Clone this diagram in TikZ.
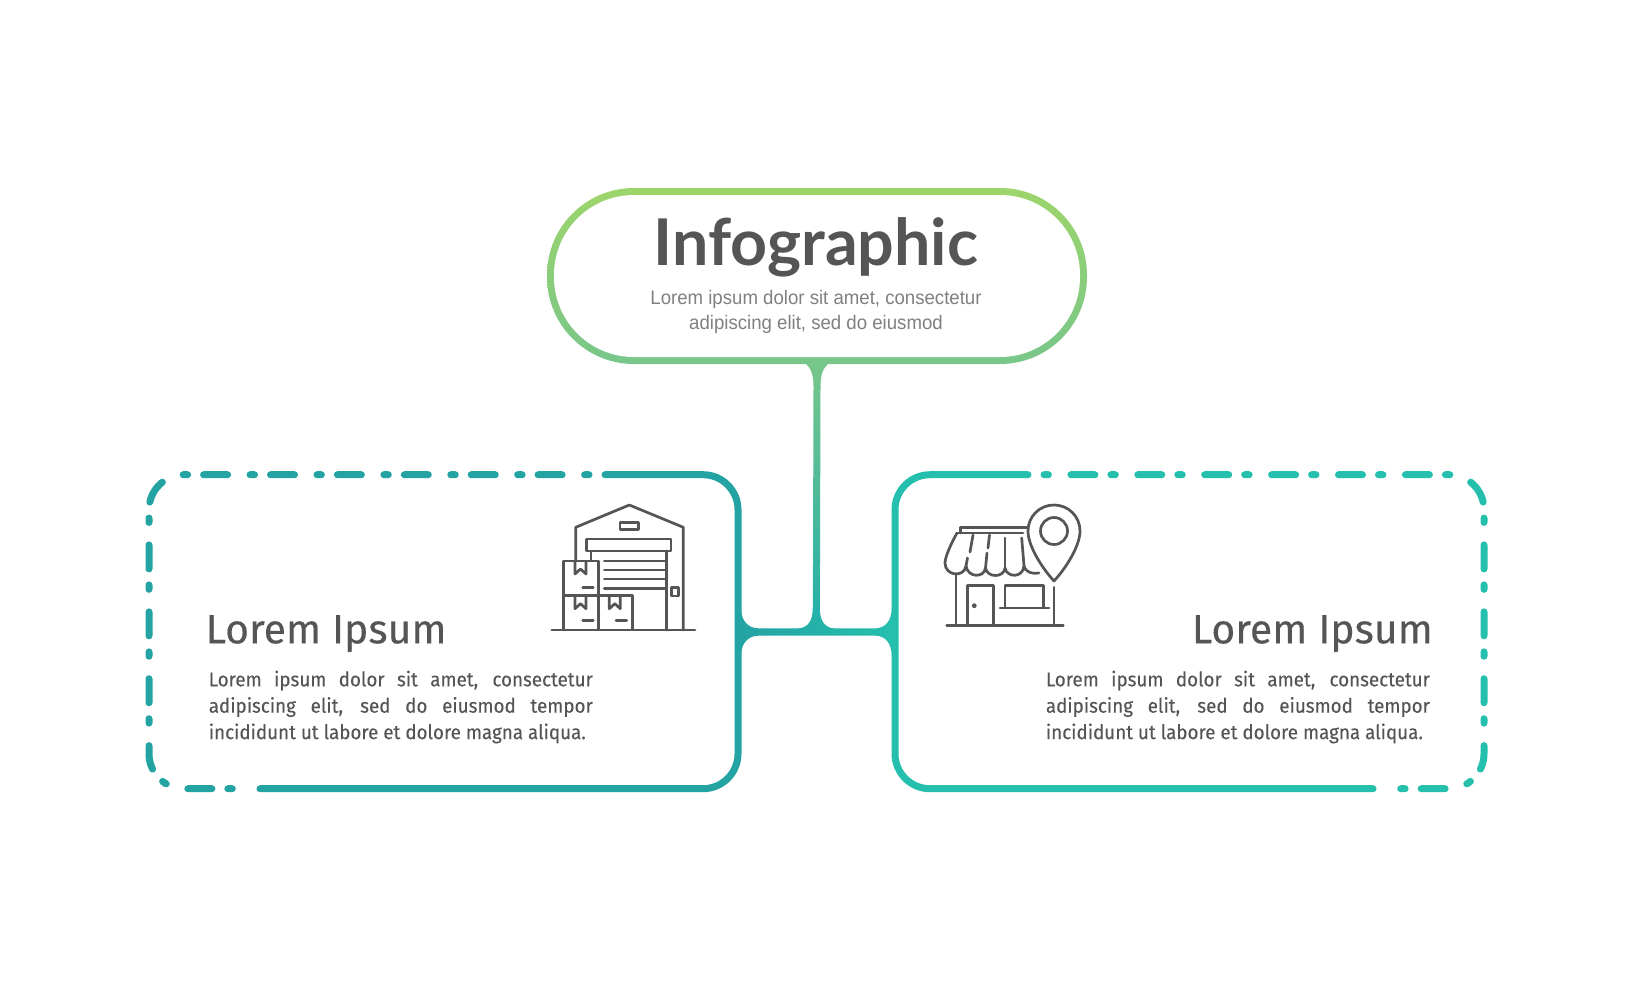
\documentclass[tikz,border=0pt]{standalone}
\usepackage{fontspec}
\usetikzlibrary{calc}
\newfontfamily\titlefont{Lato}
\newfontfamily\subfont[FakeStretch=0.95]{Liberation Sans}
\newfontfamily\headfont[FakeStretch=1.0,FakeBold=0.25]{Fira Sans}
\newfontfamily\bodyfont[FakeStretch=0.94,FakeBold=0.15]{Fira Sans}
\definecolor{inktext}{HTML}{555555}
\definecolor{subtext}{HTML}{808080}
\definecolor{pilltop}{HTML}{9DD56B}
\definecolor{pillbot}{HTML}{78C68A}
\definecolor{stemmid}{HTML}{4DB5A4}
\definecolor{stembot}{HTML}{22AEAA}
\definecolor{leftteal}{HTML}{24A3A3}
\definecolor{rightteal}{HTML}{25BFAE}
\definecolor{iconline}{HTML}{555555}
\newcommand{\bodytext}{\tolerance=9999 \hbadness=10000 Lorem ipsum dolor sit amet, consectetur\linebreak[4] adipiscing elit, sed do eiusmod tempor\linebreak[4] incididunt ut labore et dolore magna aliqua.}
\tikzset{
  pillouter/.style={minimum width=540pt,minimum height=176pt,rounded corners=87pt,top color=pilltop,bottom color=pillbot,inner sep=0pt,outer sep=0pt},
  pillinner/.style={minimum width=526pt,minimum height=162pt,rounded corners=80pt,fill=white,inner sep=0pt},
  stemshade/.style={top color=pillbot,middle color=stemmid,bottom color=stembot},
  hubshade/.style={left color=leftteal,right color=rightteal},
  boxspace/.style={minimum width=589pt,minimum height=314pt,inner sep=0pt,outer sep=0pt},
  edgeline/.style={line width=7pt,line cap=round,rounded corners=35pt},
  gapline/.style={edgeline,dash pattern=on 4.4pt off 22.5pt on 24pt off 16pt,dash phase=50.9pt},
  titletext/.style={font=\titlefont\bfseries\fontsize{64.5}{70}\selectfont,text=inktext,anchor=base,inner sep=0pt},
  subtitle/.style={font=\subfont\fontsize{19.6}{24.3}\selectfont,text=subtext,align=center,inner sep=0pt},
  headtext/.style={font=\headfont\fontsize{41}{45}\selectfont,text=inktext,anchor=base,inner sep=0pt},
  bodybox/.style={font=\bodyfont\fontsize{20}{26.4}\selectfont,text=inktext,text width=384pt,align=justify,anchor=north west,inner sep=0pt},
  icon/.style={draw=iconline,line width=2.7pt,line cap=round,line join=round},
}
\begin{document}
\begin{tikzpicture}[x=1pt,y=-1pt]
  \useasboundingbox[fill=white] (0,0) rectangle (1633,980);
  % top pill
  \node[pillouter] (head) at (817,276) {};
  \node[pillinner] (headin) at (head.center) {};
  \node[titletext] (title) at (816,265) {Infographic};
  \node[subtitle] (sub) at (816,312) {Lorem ipsum dolor sit amet, consectetur\\adipiscing elit, sed do eiusmod};
  % boxes
  \node[boxspace] (leftbox) at (443.5,631.7) {};
  \node[boxspace] (rightbox) at (1189.5,631.7) {};
  \coordinate (hub) at (816.3,632);
  \draw[edgeline,leftteal] (605,474.7) -- (leftbox.north east) -- (leftbox.south east) -- (260,788.7);
  \draw[gapline,leftteal] (605,474.7) -- (leftbox.north west) -- (leftbox.south west) -- (245,788.7);
  \draw[edgeline,rightteal] (1028,474.7) -- (rightbox.north west) -- (rightbox.south west) -- (1373,788.7);
  \draw[gapline,rightteal] (1028,474.7) -- (rightbox.north east) -- (rightbox.south east) -- (1388,788.7);
  % stem and hub
  \shade[stemshade] ($(head.south)+(-24,-4)$) .. controls ($(head.south)+(-9,-4)$) and ($(head.south)+(-3.5,6)$) .. ($(head.south)+(-3.5,22)$)
    -- ($(hub)+(-3.5,0)$) -- ($(hub)+(3.5,0)$) -- ($(head.south)+(3.5,22)$)
    .. controls ($(head.south)+(3.5,6)$) and ($(head.south)+(9,-4)$) .. ($(head.south)+(24,-4)$) -- cycle;
  \begin{scope}[shift={(hub)}]
    \shade[hubshade] (-75.3,-24) .. controls (-75.3,-12) and (-69,-3.6) .. (-57,-3.6) -- (-19,-3.6)
      .. controls (-8,-3.6) and (-3.5,-12) .. (-3.5,-24) -- (3.5,-24)
      .. controls (3.5,-12) and (8,-3.6) .. (19,-3.6) -- (58,-3.6)
      .. controls (70,-3.6) and (75.3,-12) .. (75.3,-24) -- (75.3,24)
      .. controls (75.3,12) and (70,3.6) .. (58,3.6) -- (-57,3.6)
      .. controls (-69,3.6) and (-75.3,12) .. (-75.3,24) -- cycle;
  \end{scope}
  % texts
  \node[headtext,anchor=base west] (lefthead) at (205.5,643.3) {Lorem Ipsum};
  \node[headtext,anchor=base east] (righthead) at (1433,643.3) {Lorem Ipsum};
  \node[bodybox] (leftbody) at (208.6,670.5) {\bodytext};
  \node[bodybox] (rightbody) at (1045.7,670.5) {\bodytext};
  % warehouse
  \begin{scope}[icon]
    \draw (551.7,630) -- (695,630);
    \draw (575.7,561) -- (575.7,527.3) -- (629.3,505) -- (683.3,527.3) -- (683.3,630);
    \draw (620,522.3) rectangle (638.7,529.3);
    \draw (586.7,539) rectangle (671,551);
    \draw (591,551) -- (591,561);
    \draw (666.7,551) -- (666.7,630);
    \foreach \slat in {561,570,579,588.3} \draw (604.3,\slat) -- (666,\slat);
    \draw (671.7,587.7) rectangle (678.7,596);
    \draw (563.3,561) rectangle (598.3,595.7);
    \draw (563.3,595.7) rectangle (598.3,630);
    \draw (598.3,595.7) rectangle (632.7,630);
    \foreach \bx/\by in {575/561,575/595.7,609.3/595.7}
      \draw (\bx,\by) -- ++(0,13) -- ++(5.5,-5) -- ++(5.5,5) -- ++(0,-13);
    \draw (582.7,587.7) -- (593.3,587.7);
    \draw (582.7,620.7) -- (593.3,620.7);
    \draw (616,620.7) -- (626.7,620.7);
  \end{scope}
  % shop
  \begin{scope}[icon]
    \draw (946.7,625.7) -- (1063.3,625.7);
    \draw (956,575) -- (956,625.7);
    \draw (1054,587.3) -- (1054,625.7);
    \draw (967.7,625.7) -- (967.7,585.7) -- (993.3,585.7) -- (993.3,625.7);
    \fill[iconline] (974.3,605.7) circle (2.4);
    \draw (1005,607.7) -- (1005,585.7) -- (1043.3,585.7) -- (1043.3,607.7);
    \draw (1000,608) -- (1049,608);
    \draw (1054,531) circle (13.5);
    \draw (1054,581) .. controls (1042,568) and (1028,546) .. (1028,531)
      .. controls (1028,516.5) and (1039.5,505) .. (1054,505)
      .. controls (1068.5,505) and (1080,516.5) .. (1080,531)
      .. controls (1080,546) and (1066,568) .. (1054,581) -- cycle;
    \draw (960.7,533) -- (960.7,527.7) -- (1026.7,527.7);
    \draw (957,533) -- (1023,533);
    \draw (957,533) .. controls (953,540) and (945,556) .. (945,563)
      .. controls (945,576) and (964,578) .. (966,566)
      .. controls (968,578) and (984,578) .. (985.5,568)
      .. controls (987,578) and (1004,578) .. (1005,568)
      .. controls (1007,578) and (1023,578) .. (1024,566)
      .. controls (1026,573) and (1033,574) .. (1039,573);
    \draw (973,535) -- (970,552);
    \draw (967.5,558) -- (966,566);
    \draw (989.5,535) -- (988,548);
    \draw (987,553) -- (985.5,568);
    \draw (1005,538) -- (1005,568);
    \draw (1021.7,538) -- (1024,566);
  \end{scope}
\end{tikzpicture}
\end{document}
